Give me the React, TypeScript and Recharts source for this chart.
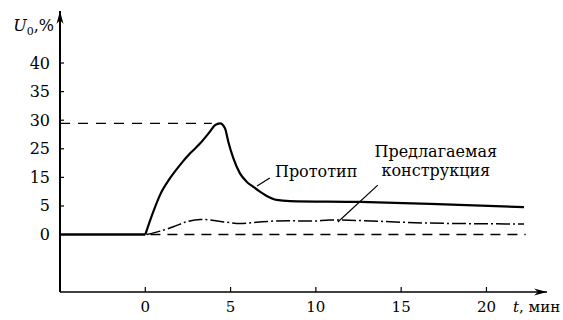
import React from 'react';
import { LineChart, Line, XAxis, YAxis, ReferenceLine, ReferenceDot } from 'recharts';

// X axis (time, min)
const xTicks = [0, 5, 10, 15, 20];
// Y axis labels (evenly spaced in the original, non-linear values)
const yTickValues = [0, 5, 15, 25, 30, 35, 40];

// Prototype curve
const protoT = [-5, 0, 0.47, 0.86, 1.45, 2.03, 2.63, 3.22, 3.79, 4.09, 4.38, 4.67, 4.87, 5.16, 5.55, 5.94, 6.33, 6.72, 7.12, 7.7, 8.48, 12.6, 16.7, 22.2];
const protoU = [0, 0, 4.0, 8.8, 14.7, 19.3, 23.4, 25.95, 28.0, 29.15, 29.45, 28.6, 26.2, 21.7, 16.4, 13.5, 11.7, 10.0, 8.5, 7.1, 6.7, 6.4, 5.7, 4.8];

// Proposed construction curve
const propT = [0.08, 0.86, 1.64, 2.43, 3.22, 3.79, 4.77, 5.55, 6.53, 7.51, 8.48, 9.83, 10.8, 16.7, 22.2];
const propU = [0, 0.6, 1.35, 2.25, 2.65, 2.55, 2.15, 1.95, 2.15, 2.35, 2.4, 2.35, 2.55, 2.0, 1.85];

// Reference levels
const peakLevel = 29.45;
const peakLineT = [-5, 3.9];
const zeroLineT = [0.3, 22.3];

// Annotations
const protoLabel = 'Прототип';
const protoLabelPos = { t: 7.6, u: 15.1 };
const protoLeader = [{ t: 7.3, u: 14.8 }, { t: 6.55, u: 12.0 }];
const propLabelLines = ['Предлагаемая', 'конструкция'];
const propLabelPos = { t: 17.03, u: 22.1 };
const propLeader = [{ t: 13.63, u: 12.3 }, { t: 11.29, u: 2.2 }];

const xDomain: [number, number] = [-5, 23.55];
const yDomain: [number, number] = [-2.01, 7.82];

const FONT = "'DejaVu Serif', 'Liberation Serif', 'Times New Roman', serif";
const textStyle = { fontFamily: FONT };

// Map a value in % onto the evenly spaced label positions of the axis
function toLevel(v: number): number {
  for (let i = 0; i < yTickValues.length - 1; i++) {
    const a = yTickValues[i];
    const b = yTickValues[i + 1];
    if (v <= b) return i + (v - a) / (b - a);
  }
  const n = yTickValues.length;
  return n - 1 + (v - yTickValues[n - 1]) / (yTickValues[n - 1] - yTickValues[n - 2]);
}

const protoPts = protoT.map((t, i) => ({ t, u: toLevel(protoU[i]) }));
const protoFlat = protoPts.filter((p) => p.t <= 0);
const protoRise = protoPts.filter((p) => p.t >= 0);
const propData = propT.map((t, i) => ({ t, u: toLevel(propU[i]) }));
const yLevels = yTickValues.map((v) => toLevel(v));

const XTick = (props: any) => {
  const { x, y, payload } = props;
  return (
    <g>
      <line x1={x} y1={y} x2={x} y2={y - 5} stroke="#000" strokeWidth={1.2} />
      <text x={x} y={y + 20} textAnchor="middle" fontSize={15} style={textStyle} fill="#000">
        {payload.value}
      </text>
    </g>
  );
};

const YTick = (props: any) => {
  const { x, y, payload } = props;
  const label = yTickValues[Math.round(payload.value)];
  return (
    <g>
      <line x1={x} y1={y} x2={x + 4} y2={y} stroke="#000" strokeWidth={1.2} />
      <text x={x - 10} y={y + 5.5} textAnchor="end" fontSize={16} style={textStyle} fill="#000">
        {label}
      </text>
    </g>
  );
};

const YArrow = (props: any) => {
  const { cx, cy } = props;
  return (
    <g>
      <path d={`M${cx},${cy} L${cx - 3.5},${cy + 13} L${cx},${cy + 9} L${cx + 3.5},${cy + 13} Z`} fill="#000" />
      <text x={cx - 6} y={cy + 20} textAnchor="end" fontSize={16} style={textStyle} fill="#000">
        <tspan fontStyle="italic">U</tspan>
        <tspan fontSize={11} dy={4}>0</tspan>
        <tspan dy={-4}>,%</tspan>
      </text>
    </g>
  );
};

const XArrow = (props: any) => {
  const { cx, cy } = props;
  return (
    <g>
      <path d={`M${cx},${cy} L${cx - 13},${cy - 3.5} L${cx - 9},${cy} L${cx - 13},${cy + 3.5} Z`} fill="#000" />
      <text x={cx - 34} y={cy + 20} textAnchor="start" fontSize={15} style={textStyle} fill="#000">
        <tspan fontStyle="italic">t</tspan>
        <tspan>, мин</tspan>
      </text>
    </g>
  );
};

const ProtoText = (props: any) => (
  <text x={props.cx} y={props.cy} textAnchor="start" fontSize={16} style={textStyle} fill="#000">
    {protoLabel}
  </text>
);

const PropText = (props: any) => (
  <text x={props.cx} y={props.cy} textAnchor="middle" fontSize={16} style={textStyle} fill="#000">
    <tspan x={props.cx}>{propLabelLines[0]}</tspan>
    <tspan x={props.cx} dy={19}>{propLabelLines[1]}</tspan>
  </text>
);

export default function App() {
  return (
    <div style={{ position: 'absolute', left: 0, top: 0, width: 563, height: 320, background: '#fff', fontFamily: FONT }}>
      <LineChart width={563} height={320} margin={{ top: 11, right: 16, left: 0, bottom: 0 }}>
        <XAxis
          type="number"
          dataKey="t"
          domain={xDomain}
          ticks={xTicks}
          interval={0}
          allowDataOverflow
          height={28}
          axisLine={{ stroke: '#000', strokeWidth: 1.7 }}
          tickLine={false}
          tickSize={0}
          tickMargin={0}
          tick={<XTick />}
        />
        <YAxis
          type="number"
          domain={yDomain}
          ticks={yLevels}
          interval={0}
          allowDataOverflow
          width={60}
          axisLine={{ stroke: '#000', strokeWidth: 2 }}
          tickLine={false}
          tickSize={0}
          tickMargin={0}
          tick={<YTick />}
        />
        <ReferenceLine
          segment={[{ x: peakLineT[0], y: toLevel(peakLevel) }, { x: peakLineT[1], y: toLevel(peakLevel) }]}
          stroke="#000"
          strokeWidth={1.1}
          strokeDasharray="10 8"
          ifOverflow="visible"
        />
        <ReferenceLine
          segment={[{ x: zeroLineT[0], y: 0 }, { x: zeroLineT[1], y: 0 }]}
          stroke="#000"
          strokeWidth={1.4}
          strokeDasharray="10 7"
          ifOverflow="visible"
        />
        <Line
          data={propData}
          dataKey="u"
          type="monotone"
          stroke="#000"
          strokeWidth={1.5}
          strokeDasharray="14 3 2 3"
          dot={false}
          activeDot={false}
          isAnimationActive={false}
        />
        <Line
          data={protoFlat}
          dataKey="u"
          type="linear"
          stroke="#000"
          strokeWidth={2.4}
          dot={false}
          activeDot={false}
          isAnimationActive={false}
        />
        <Line
          data={protoRise}
          dataKey="u"
          type="monotone"
          stroke="#000"
          strokeWidth={2.2}
          dot={false}
          activeDot={false}
          isAnimationActive={false}
        />
        <ReferenceLine
          segment={[{ x: protoLeader[0].t, y: toLevel(protoLeader[0].u) }, { x: protoLeader[1].t, y: toLevel(protoLeader[1].u) }]}
          stroke="#000"
          strokeWidth={1.2}
          ifOverflow="visible"
        />
        <ReferenceLine
          segment={[{ x: propLeader[0].t, y: toLevel(propLeader[0].u) }, { x: propLeader[1].t, y: toLevel(propLeader[1].u) }]}
          stroke="#000"
          strokeWidth={1.2}
          ifOverflow="visible"
        />
        <ReferenceDot x={protoLabelPos.t} y={toLevel(protoLabelPos.u)} r={0} ifOverflow="visible" shape={<ProtoText />} />
        <ReferenceDot x={propLabelPos.t} y={toLevel(propLabelPos.u)} r={0} ifOverflow="visible" shape={<PropText />} />
        <ReferenceDot x={xDomain[1]} y={yDomain[0]} r={0} ifOverflow="visible" shape={<XArrow />} />
        <ReferenceDot x={xDomain[0]} y={yDomain[1]} r={0} ifOverflow="visible" shape={<YArrow />} />
      </LineChart>
    </div>
  );
}
